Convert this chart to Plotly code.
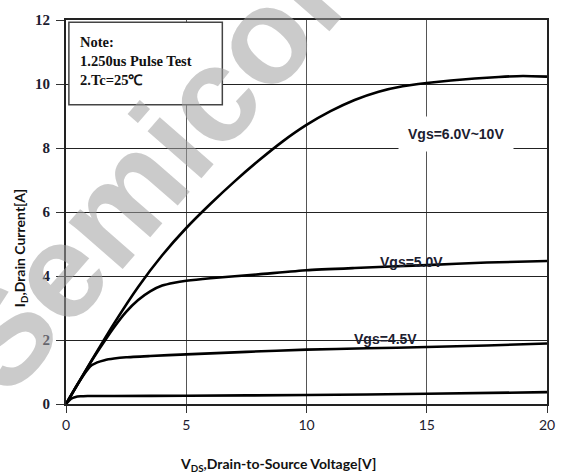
import plotly.graph_objects as go

# Output characteristics: drain current vs drain-to-source voltage
vds_hi = [0, 1, 2, 3, 4, 5, 6, 7, 8, 9, 10, 11, 12, 13, 14, 15, 16, 17, 18, 19, 20]
id_hi = [0, 1.28, 2.52, 3.66, 4.65, 5.5, 6.25, 6.95, 7.6, 8.2, 8.72, 9.15, 9.5, 9.76, 9.93,
         10.03, 10.11, 10.17, 10.22, 10.25, 10.23]

vds_5v = [0, 1.0, 1.5, 2.0, 2.5, 3.0, 3.5, 4.0, 4.5, 5.0, 6.0, 8.0, 10.0, 12.0, 15.0, 17.5, 20]
id_5v = [0, 1.27, 1.85, 2.4, 2.88, 3.25, 3.52, 3.7, 3.79, 3.85, 3.93, 4.05, 4.18, 4.25, 4.34, 4.42, 4.47]

vds_45v = [0, 0.5, 1.0, 1.3, 1.6, 2.0, 2.5, 3.5, 5, 7.5, 10, 12.5, 15, 17.5, 20]
id_45v = [0, 0.64, 1.17, 1.3, 1.37, 1.42, 1.46, 1.5, 1.55, 1.63, 1.70, 1.74, 1.78, 1.83, 1.89]

vds_low = [0, 0.2, 0.4, 0.6, 0.9, 2, 5, 10, 15, 20]
id_low = [0, 0.16, 0.22, 0.24, 0.25, 0.25, 0.26, 0.28, 0.32, 0.37]

x_ticks = [0, 5, 10, 15, 20]
y_ticks = [0, 2, 4, 6, 8, 10, 12]

curve_labels = [
    ("Vgs=6.0V~10V", 16.2, 8.44, "white"),
    ("Vgs=5.0V", 14.35, 4.45, None),
    ("Vgs=4.5V", 13.28, 2.04, None),
]

note_lines = ["Note:", "1.250us Pulse Test", "2.Tc=25\u2103"]

W, H = 567, 473
ml, mr, mt, mb = 66, 14, 16, 69


def px_to_paper(px, py):
    """Pixel position (from top-left of the figure) to paper coordinates."""
    return (px - ml) / (W - ml - mr), (H - mb - py) / (H - mt - mb)


fig = go.Figure()
for xs, ys in [(vds_hi, id_hi), (vds_5v, id_5v), (vds_45v, id_45v), (vds_low, id_low)]:
    fig.add_trace(go.Scatter(
        x=xs, y=ys, mode="lines",
        line=dict(color="black", width=2.6, shape="spline", smoothing=0.5),
        showlegend=False, hoverinfo="skip",
    ))

label_font = dict(family="Liberation Sans, Arial", size=14, color="#1c2030", weight="bold")
for text, lx, ly, bg in curve_labels:
    fig.add_annotation(
        x=lx, y=ly, xref="x", yref="y", text=text,
        xanchor="center", yanchor="middle",
        showarrow=False, font=label_font,
        bgcolor=bg if bg else "rgba(0,0,0,0)", borderpad=9 if bg else 0,
    )

# Note box in the upper-left corner
fig.add_shape(type="rect", xref="x", yref="y", x0=0.12, x1=6.5, y0=9.35, y1=11.93,
              line=dict(color="#444", width=1.5), fillcolor="white", layer="above")
fig.add_annotation(
    x=0.5, y=11.64, xref="x", yref="y", xanchor="left", yanchor="top",
    text="<br>".join(note_lines),
    showarrow=False, align="left",
    font=dict(family="Liberation Serif, Times New Roman, serif", size=14.5,
              color="#111", weight="bold"),
)

# Axis titles
ax_font = dict(family="Lato, Carlito, Calibri, sans-serif", size=14, color="#111", weight="bold")
tx, ty = px_to_paper(20, 247)
fig.add_annotation(
    x=tx, y=ty, xref="paper", yref="paper", xanchor="center", yanchor="middle",
    text="I<sub>D</sub>,Drain Current[A]", showarrow=False, textangle=-90, font=ax_font,
)
tx, ty = px_to_paper(281, 465)
fig.add_annotation(
    x=tx, y=ty, xref="paper", yref="paper", xanchor="center", yanchor="middle",
    text="V<sub>DS</sub>,Drain-to-Source Voltage[V]", showarrow=False, font=ax_font,
)

# Light diagonal watermark
tx, ty = px_to_paper(298, -5)
fig.add_annotation(
    x=tx, y=ty, xref="paper", yref="paper", xanchor="center", yanchor="middle",
    text="Semiconductor", showarrow=False, textangle=-49,
    font=dict(family="Liberation Sans, Arial, sans-serif", size=135, weight="bold",
              color="rgba(160,160,160,0.55)"),
)

fig.update_layout(
    width=W, height=H,
    margin=dict(l=ml, r=mr, t=mt, b=mb),
    paper_bgcolor="white", plot_bgcolor="white",
    showlegend=False,
)
fig.update_xaxes(
    range=[0, 20], tickvals=x_ticks, ticktext=[str(v) for v in x_ticks],
    showgrid=True, gridcolor="#555", gridwidth=1.3,
    showline=True, linecolor="#222", linewidth=2, mirror=True,
    ticks="outside", ticklen=7, tickcolor="#333", tickwidth=1.3,
    tickfont=dict(family="Lato, Carlito, Calibri, sans-serif", size=14, color="#1c2030"),
    zeroline=False,
)
fig.update_yaxes(
    range=[0, 12], tickvals=y_ticks, ticktext=[str(v) for v in y_ticks],
    showgrid=True, gridcolor="#222", gridwidth=1.3,
    showline=True, linecolor="#222", linewidth=2, mirror=True,
    ticks="outside", ticklen=8, tickcolor="#333", tickwidth=1.3,
    tickfont=dict(family="Liberation Serif, Times New Roman, serif", size=15,
                  color="#1c2030", weight="bold"),
    ticklabelstandoff=3,
    zeroline=False,
)

fig.write_html("out.html")
